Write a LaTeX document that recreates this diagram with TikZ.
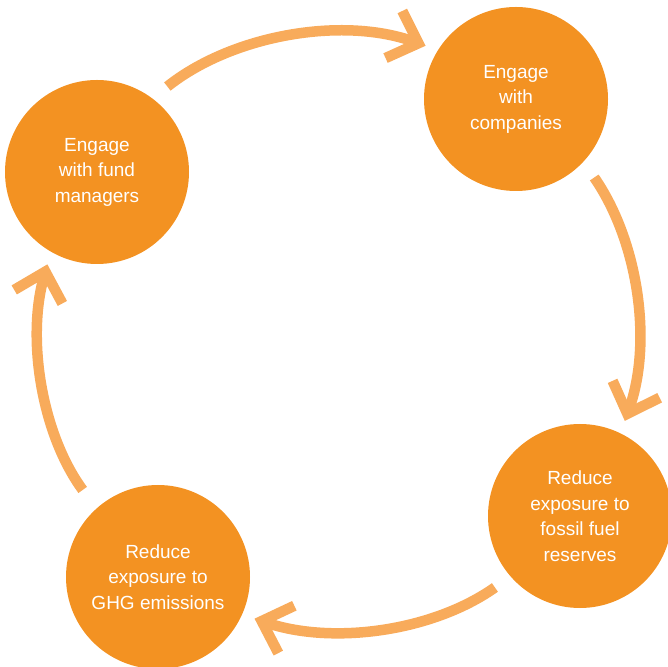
\documentclass[tikz,border=0pt]{standalone}
\usepackage{fontspec}
\setmainfont{Liberation Sans}
\usetikzlibrary{arrows.meta,positioning}
\definecolor{dot}{RGB}{243,146,34}
\definecolor{loop}{RGB}{248,171,91}

\begin{document}
\begin{tikzpicture}[x=1pt,y=1pt,
    stage/.style={circle,fill=dot,minimum size=184pt,inner sep=0pt,text=white,
      align=center,font=\fontsize{19}{25.5}\selectfont},
    flow/.style={draw=loop,line width=10.5pt,looseness=0.9,shorten <=19pt,shorten >=13pt,
      -{Straight Barb[length=26pt,width=50pt,line width=10.5pt,line join=miter]}}]
        \useasboundingbox (0,0) rectangle (668,666);
        \node[stage] (fund) at (97,494)  {Engage\\with fund\\managers};
        \node[stage] (comp) at (516,567) {Engage\\with\\companies};
        \node[stage] (foss) at (580,150) {Reduce\\exposure to\\fossil fuel\\reserves};
        \node[stage] (ghg)  at (158,89)  {Reduce\\exposure to\\GHG emissions};
          \path
            (fund.53.7)   edge[flow,out=38.5,in=160.4]   (comp.148.1)
            (comp.-43)    edge[flow,out=-55.3,in=70.3]   (foss.64.9)
            (foss.-139.3) edge[flow,out=-144.7,in=-18.7] (ghg.-24.6)
            (ghg.132.1)   edge[flow,out=126.3,in=254.3,shorten <=23pt] (fund.-120.9);
    \end{tikzpicture}
\end{document}
